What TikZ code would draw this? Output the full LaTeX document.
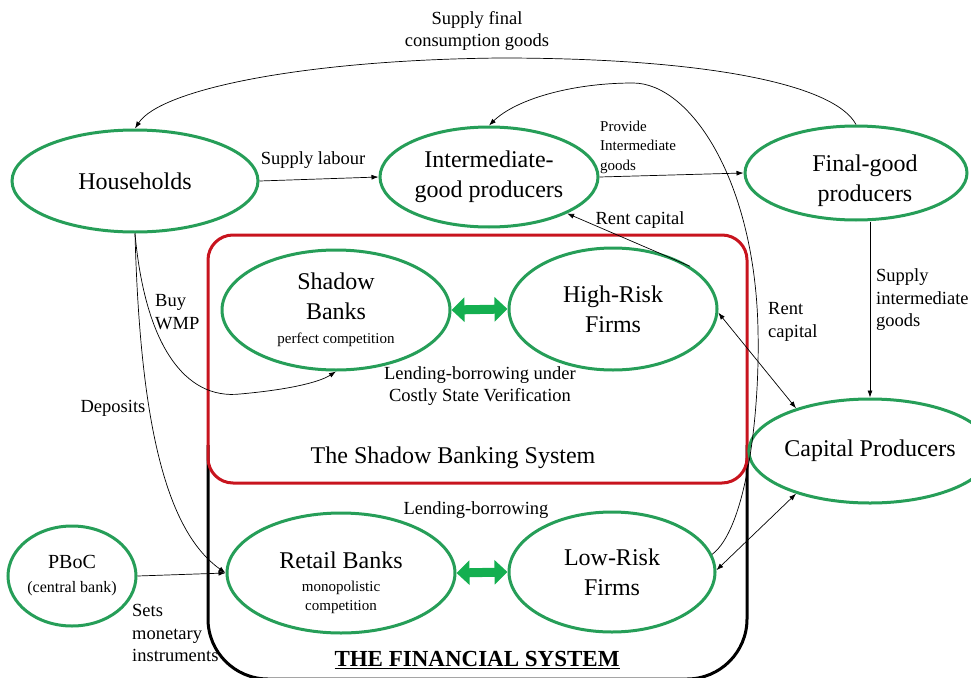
\documentclass[tikz,border=0pt]{standalone}
\usepackage{fontspec}
\setmainfont{Liberation Serif}
\usetikzlibrary{shapes.geometric,arrows.meta}
\definecolor{ellgreen}{RGB}{38,158,88}
\definecolor{arrgreen}{RGB}{20,175,80}
\definecolor{boxred}{RGB}{200,20,30}
\newcommand\fbig{\fontsize{24}{30}\selectfont}
\newcommand\flab{\fontsize{18.5}{22.5}\selectfont}
\newcommand\fsm{\fontsize{15}{19.5}\selectfont}
\begin{document}
\begin{tikzpicture}[x=1pt,y=-1pt,
  ell/.style={ellipse, draw=ellgreen, line width=3pt, inner sep=0pt, align=center, font=\fbig},
  arr/.style={-{Latex[length=7pt,width=5pt]}, line width=0.7pt},
  darr/.style={{Latex[length=7pt,width=5pt]}-{Latex[length=7pt,width=5pt]}, line width=0.7pt},
  garr/.style={{Triangle[length=13pt,width=24pt]}-{Triangle[length=13pt,width=24pt]}, line width=9pt, draw=arrgreen},
  lab/.style={font=\flab, align=center, inner sep=0pt}]
\useasboundingbox (0,0) rectangle (971,677);
% frames
\draw[line width=3pt, rounded corners=60pt] (208,445) -- (208,679) -- (747,679) -- (747,445);
\draw[boxred, line width=3pt, rounded corners=25pt] (208,235) rectangle (747,483);
\node[font=\fbig, inner sep=0pt] (sbs) at (453,458) {The Shadow Banking System};
\node[font=\fontsize{23}{28}\selectfont\bfseries, inner sep=0pt] (fs) at (477,660) {\underline{THE FINANCIAL SYSTEM}};
% nodes
\node[ell, minimum width=246pt, minimum height=102pt] (hh) at (135,181) {Households};
\node[ell, minimum width=218pt, minimum height=100pt] (ip) at (489,177) {Intermediate-\\good producers};
\node[ell, minimum width=222pt, minimum height=94pt] (fg) at (856,173) {};
\node[lab, font=\fbig] (fgt) at (865,181) {Final-good\\producers};
\node[ell, minimum width=228pt, minimum height=120pt] (sb) at (336,310) {Shadow\\Banks\\[-6pt]{\fsm perfect competition}};
\node[ell, minimum width=208pt, minimum height=122pt] (hr) at (613,309) {High-Risk\\Firms};
\node[ell, minimum width=196pt, minimum height=104pt] (cp) at (870,451) {Capital Producers};
\node[ell, minimum width=128pt, minimum height=100pt, font=\fontsize{20}{24}\selectfont] (pb) at (72,576) {PBoC\\{\fontsize{16}{20}\selectfont(central bank)}};
\node[ell, minimum width=228pt, minimum height=120pt] (rb) at (341,573) {};
\node[lab, font=\fbig] (rbt) at (341,583) {Retail Banks\\[-7pt]{\fsm monopolistic}\\[-11pt]{\fsm competition}};
\node[ell, minimum width=206pt, minimum height=120pt] (lr) at (612,572) {Low-Risk\\Firms};
% connectors
\draw[arr] (fg.north) .. controls (835,85) and (710,58) .. (500,58) .. controls (300,60) and (160,90) .. (hh.north);
\node[lab] (l1) at (477,31) {Supply final\\consumption goods};
\draw[arr] (hh.east) -- (ip.west);
\node[lab] (l2) at (313,160) {Supply labour};
\draw[arr] (ip.east) -- (fg.west);
\node[lab, font=\fsm, align=left, anchor=west] (l3) at (600,147) {Provide\\Intermediate\\goods};
\draw[arr] (hr.29) -- (ip.-25);
\node[lab] (l4) at (640,220) {Rent capital};
\draw[arr] (lr.10) .. controls (745,530) and (760,420) .. (758,330) .. controls (755,180) and (690,83) .. (633,83) .. controls (570,83) and (515,100) .. (ip.north);
\node[lab, align=left, anchor=west] (l5) at (768,322) {Rent\\capital};
\draw[darr] (hr.-2) -- (cp.150);
\draw[darr] (lr.1) -- (cp.210);
\draw[arr] (fg.south -| cp.north) -- (cp.north);
\node[lab, align=left, anchor=west] (l6) at (876,300) {Supply\\intermediate\\goods};
\draw[garr] (sb.east) -- (hr.west);
\draw[garr] (rb.east) -- (lr.west);
\node[lab] (l7) at (480,386) {Lending-borrowing under\\Costly State Verification};
\node[lab] (l8) at (476,510) {Lending-borrowing};
\draw[arr] (hh.south) .. controls (140,420) and (165,530) .. (rb.west);
\draw[arr] (hh.south) .. controls (145,345) and (185,400) .. (240,394) .. controls (285,390) and (318,383) .. (sb.south);
\node[lab] (l9) at (113,408) {Deposits};
\node[lab, align=left, anchor=west] (l10) at (155,312) {Buy\\WMP};
\draw[arr] (pb.east) -- (rb.west);
\node[lab, align=left, anchor=west] (l11) at (132,633) {Sets\\monetary\\instruments};
\end{tikzpicture}
\end{document}
